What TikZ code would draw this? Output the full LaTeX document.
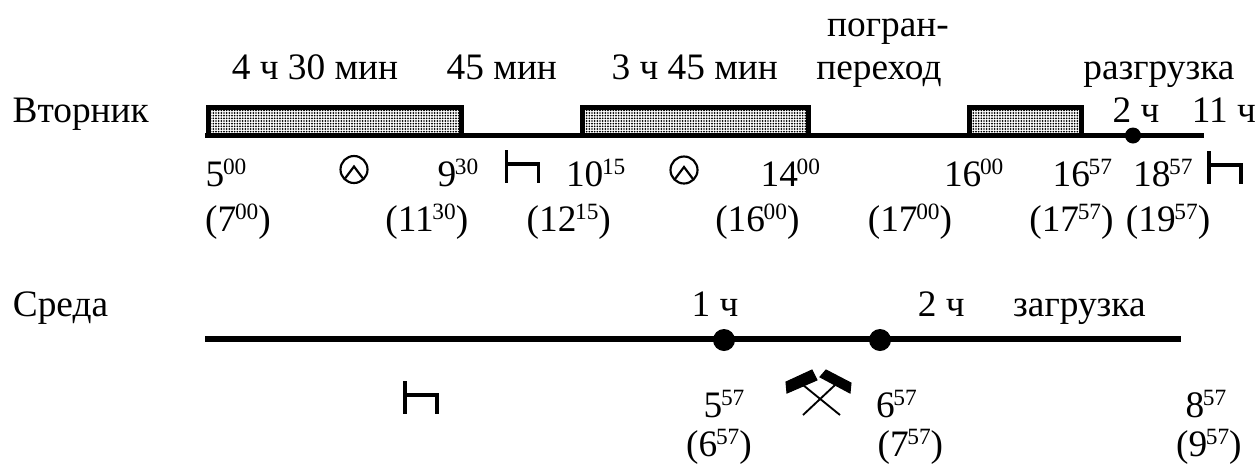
\documentclass[tikz,border=0pt]{standalone}
\usepackage{fontspec}
\setmainfont{Liberation Serif}
\usetikzlibrary{positioning, patterns.meta}
\newcommand{\tm}[2]{#1\kern-1pt\raisebox{9.5pt}{\fontsize{17.5}{18}\selectfont #2}}
\tikzset{
    caption/.style={font=\fontsize{28}{30}\selectfont, inner sep=0pt, text height=19pt, text depth=6pt},
    timeline/.style={line width=3.6pt},
    workbar/.style={line width=3.75pt, pattern={Dots[radius=0.7pt, distance=2pt]}, pattern color=black},
    stop/.style={circle, fill, inner sep=0pt, minimum size=#1},
    rest/.pic={
        \draw[line width=2.4pt] (0,0) -- (0,33) (0,14) -- (32,14) -- (32,33);
    },
    clock/.pic={
        \draw[line width=1.6pt] (0,0) circle[radius=13.5];
        \draw[line width=1.6pt] (-9,9) -- (0,-3) -- (9,9);
    },
    hammers/.pic={
        \draw[line width=1.4pt] (-16,-14) -- (21,16) (16,-14) -- (-16,16);
        \filldraw[line width=0.8pt] (-33,-17) -- (-7,-29) -- (-2,-19) -- (-32,-6) -- cycle;
        \filldraw[line width=0.8pt] (1,-22) -- (7,-29) -- (32,-16) -- (31,-6) -- cycle;
    }
}

\begin{document}
\begin{tikzpicture}[x=0.75pt, y=-0.75pt]
    \useasboundingbox (0,0) rectangle (1256,465);

    % Tuesday
    \coordinate (tueStart) at (205,135.5);
    \coordinate (tueEnd) at (1204,135.5);
    \draw[workbar] (208,107.5) rectangle (461,135.5);
    \draw[workbar] (582,107.5) rectangle (808,135.5);
    \draw[workbar] (969,107.5) rectangle (1081,135.5);
    \draw[timeline] (tueStart) -- (tueEnd);
    \node[stop=12pt] (tueDot) at (1133,135.5) {};

    \node[caption] (border1) at (888,28.3) {погран-};
    \node[caption] (drive1) at (315,71.3) {4 ч 30 мин};
    \node[caption,right=36pt of drive1] (break1) {45 мин};
    \node[caption,right=40.5pt of break1] (drive2) {3 ч 45 мин};
    \node[caption,right=28.5pt of drive2] (border2) {переход};
    \node[caption,right=106pt of border2] (unload) {разгрузка};
    \node[caption] (tue) at (80.7,114.3) {Вторник};
    \node[caption] (unload2) at (1136,114.3) {2 ч};
    \node[caption,right=24pt of unload2] (rest11) {11 ч};

    \node[caption] (t500) at (226,178.3) {\tm{5}{00}};
    \node[caption,right=143pt of t500] (t930) {\tm{9}{30}};
    \node[caption,right=65.5pt of t930] (t1015) {\tm{10}{15}};
    \node[caption,right=101pt of t1015] (t1400) {\tm{14}{00}};
    \node[caption,right=92.7pt of t1400] (t1600) {\tm{16}{00}};
    \node[caption,right=36.5pt of t1600] (t1657) {\tm{16}{57}};
    \node[caption,right=15.5pt of t1657] (t1857) {\tm{18}{57}};

    \node[caption] (m700) at (238,223.3) {(\tm{7}{00})};
    \node[caption,right=85.6pt of m700] (m1130) {(\tm{11}{30})};
    \node[caption,right=43.4pt of m1130] (m1215) {(\tm{12}{15})};
    \node[caption,right=77.9pt of m1215] (m1600) {(\tm{16}{00})};
    \node[caption,right=50.9pt of m1600] (m1700) {(\tm{17}{00})};
    \node[caption,right=57.6pt of m1700] (m1757) {(\tm{17}{57})};
    \node[caption,right=8.9pt of m1757] (m1957) {(\tm{19}{57})};

    \pic at (354,169.5) {clock};
    \pic at (684,170) {clock};
    \pic at (506.5,150) {rest};
    \pic at (1209,151) {rest};

    % Wednesday
    \coordinate (wedStart) at (205,339);
    \coordinate (wedEnd) at (1181,339);
    \draw[timeline,line width=4.5pt] (wedStart) -- (wedEnd);
    \node[stop=16.5pt] (wedDot1) at (724,340) {};
    \node[stop=16.5pt] (wedDot2) at (880,340) {};

    \node[caption] (wed) at (60.5,308.3) {Среда};
    \node[caption] (mine1) at (715,308.3) {1 ч};
    \node[caption,right=134.25pt of mine1] (load2) {2 ч};
    \node[caption,right=36pt of load2] (load) {загрузка};

    \node[caption] (t557) at (724,409.3) {\tm{5}{57}};
    \node[caption,right=98.4pt of t557] (t657) {\tm{6}{57}};
    \node[caption,right=201.2pt of t657] (t857) {\tm{8}{57}};
    \node[caption] (m657) at (719,448.3) {(\tm{6}{57})};
    \node[caption,right=94pt of m657] (m757) {(\tm{7}{57})};
    \node[caption,right=174.3pt of m757] (m957) {(\tm{9}{57})};

    \pic at (405,381) {rest};
    \pic at (819,399) {hammers};
\end{tikzpicture}
\end{document}
